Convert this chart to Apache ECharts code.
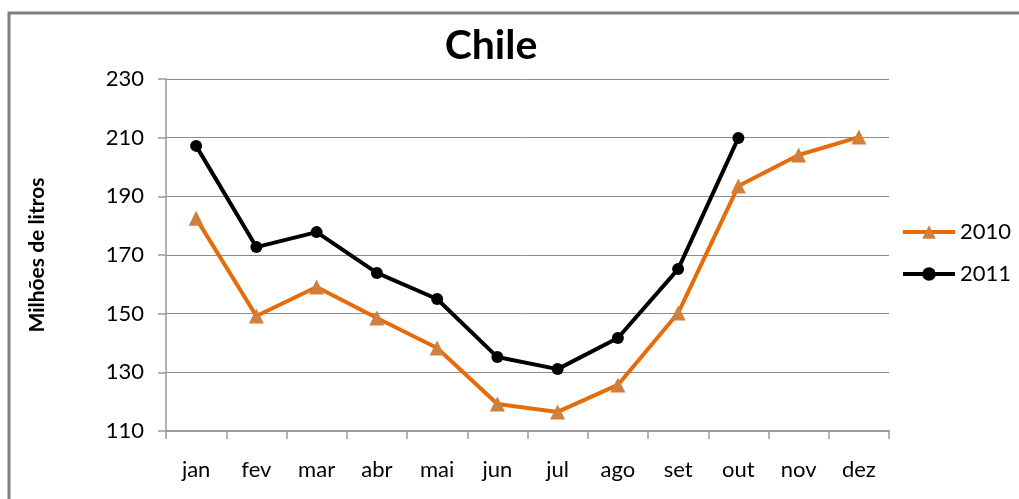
<!DOCTYPE html>
<html>
<head>
<meta charset="utf-8">
<script src="https://cdn.jsdelivr.net/npm/echarts@6/dist/echarts.min.js"></script>
<style>
  html, body { margin: 0; padding: 0; background: #fff; }
  #chart { width: 1019px; height: 499px; }
</style>
</head>
<body>
<div id="chart"></div>
<script>
const months = ['jan', 'fev', 'mar', 'abr', 'mai', 'jun', 'jul', 'ago', 'set', 'out', 'nov', 'dez']
const values2010 = [182.5, 149.2, 159.1, 148.5, 138.3, 119.2, 116.5, 125.7, 150.2, 193.5, 204.1, 210.2]
const values2011 = [207.2, 172.7, 177.8, 163.9, 155.0, 135.2, 131.1, 141.7, 165.2, 209.9]
const yTicks = { min: 110, max: 230, step: 20 }

const font = 'Lato, "Open Sans", sans-serif'

const chart = echarts.init(document.getElementById('chart'))
chart.setOption({
  animation: false,
  textStyle: { fontFamily: font },
  title: {
    text: 'Chile',
    left: 486,
    top: 20,
    textAlign: 'center',
    textStyle: { fontSize: 41, fontWeight: 'bold', color: '#000', fontFamily: font }
  },
  graphic: [{
    type: 'rect',
    shape: { x: 9, y: 13, width: 1100, height: 600 },
    style: { fill: 'none', stroke: '#7f7f7f', lineWidth: 3 },
    silent: true
  }],
  legend: {
    orient: 'vertical',
    left: 896,
    top: 216,
    itemWidth: 52,
    itemHeight: 17,
    itemGap: 20,
    textStyle: { fontSize: 22, color: '#000', fontFamily: font },
    lineStyle: { width: 4 },
    data: ['2010', '2011']
  },
  grid: { left: 166, right: 130, top: 79, bottom: 68 },
  xAxis: {
    type: 'category',
    data: months,
    boundaryGap: true,
    axisLine: { lineStyle: { color: '#999', width: 2 } },
    axisTick: { show: true, length: 8, lineStyle: { color: '#999', width: 1.5 } },
    axisLabel: { fontSize: 22, color: '#000', margin: 28, fontFamily: font }
  },
  yAxis: {
    type: 'value',
    min: yTicks.min,
    max: yTicks.max,
    interval: yTicks.step,
    name: 'Milhões de litros',
    nameLocation: 'middle',
    nameGap: 118,
    nameTextStyle: { fontSize: 21, fontWeight: 'bold', color: '#000', fontFamily: font },
    axisLine: { show: true, lineStyle: { color: '#999', width: 1.5 } },
    axisTick: { show: true, length: 8, lineStyle: { color: '#999', width: 1.5 } },
    axisLabel: { fontSize: 22, color: '#000', margin: 22, fontFamily: font },
    splitLine: { lineStyle: { color: '#8c8c8c', width: 1 } }
  },
  series: [
    {
      name: '2010',
      type: 'line',
      data: values2010,
      symbol: 'triangle',
      symbolSize: 15,
      lineStyle: { color: '#e46c0a', width: 4 },
      itemStyle: { color: '#d07f3c', borderWidth: 0 },
      z: 2
    },
    {
      name: '2011',
      type: 'line',
      data: values2011,
      symbol: 'circle',
      symbolSize: 12,
      lineStyle: { color: '#000', width: 4 },
      itemStyle: { color: '#000', borderWidth: 0 },
      z: 3
    }
  ]
})
</script>
</body>
</html>
